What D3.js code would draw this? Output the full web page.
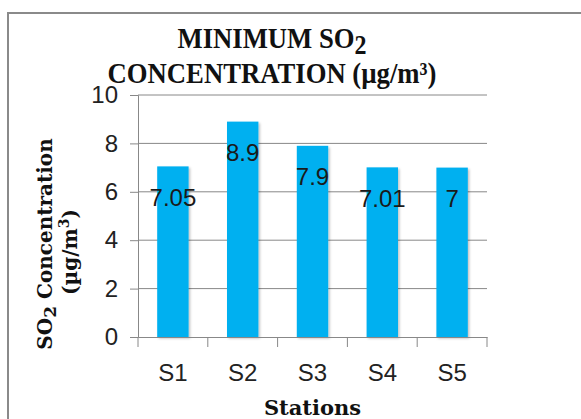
<!DOCTYPE html>
<html>
<head>
<meta charset="utf-8">
<script src="https://cdn.jsdelivr.net/npm/d3@7"></script>
<style>
  body { margin: 0; background: #fff; }
  svg { display: block; }
  .title { font-family: "Liberation Serif", serif; font-weight: bold; fill: #111; }
  .axtitle { font-family: "DejaVu Serif", serif; font-weight: bold; fill: #111; }
</style>
</head>
<body>
<svg id="chart"></svg>
<script>
var stations = ["S1", "S2", "S3", "S4", "S5"];
var minSO2 = [7.05, 8.9, 7.9, 7.01, 7];
var labels = ["7.05", "8.9", "7.9", "7.01", "7"];
var yTicks = [0, 2, 4, 6, 8, 10];

var W = 581, H = 419;
var margin = {top: 95, right: 94, bottom: 82, left: 138};
var width = W - margin.left - margin.right,
	height = H - margin.top - margin.bottom;

var svg = d3.select("#chart").attr("width", W).attr("height", H);

/* outer chart border */
svg.append("rect")
	.attr("x", 8).attr("y", 13)
	.attr("width", 600).attr("height", 440)
	.attr("fill", "none")
	.attr("stroke", "#8a8a8a")
	.attr("stroke-width", 2);

var g = svg.append("g")
	.attr("transform", "translate(" + margin.left + "," + margin.top + ")");

var x = d3.scaleBand()
	.domain(stations)
	.range([0, width])
	.paddingInner(0.55)
	.paddingOuter(0.275);

var y = d3.scaleLinear()
	.domain([0, 10])
	.range([height, 0]);

/* gridlines */
g.append("g")
	.selectAll("line")
	.data(yTicks.slice(1))
	.enter().append("line")
	.attr("x1", 0)
	.attr("x2", width)
	.attr("y1", function(d){ return y(d); })
	.attr("y2", function(d){ return y(d); })
	.attr("stroke", "#888")
	.attr("stroke-width", 1);

/* bars */
var defs = svg.append("defs");
var f = defs.append("filter").attr("id", "shadow")
	.attr("x", "-20%").attr("y", "-10%").attr("width", "150%").attr("height", "130%");
f.append("feDropShadow")
	.attr("dx", 1.5).attr("dy", 1.5).attr("stdDeviation", 1.2)
	.attr("flood-color", "#000").attr("flood-opacity", 0.25);

g.selectAll(".bar")
	.data(minSO2)
	.enter().append("rect")
	.attr("class", "bar")
	.attr("x", function(d, i){ return x(stations[i]); })
	.attr("width", x.bandwidth())
	.attr("y", function(d){ return y(d); })
	.attr("height", function(d){ return height - y(d); })
	.attr("fill", "#00b0f0")
	.attr("filter", "url(#shadow)");

/* data labels */
g.selectAll(".lbl")
	.data(minSO2)
	.enter().append("text")
	.attr("class", "lbl")
	.attr("x", function(d, i){ return x(stations[i]) + x.bandwidth() / 2; })
	.attr("y", function(d){ return y(d) + 31; })
	.attr("text-anchor", "middle")
	.attr("dominant-baseline", "central")
	.style("font-family", "'Liberation Sans', Arial, sans-serif")
	.style("font-size", "24px")
	.style("fill", "#1a1a1a")
	.text(function(d, i){ return labels[i]; });

/* axes */
var yAxis = g.append("g")
	.call(d3.axisLeft(y).tickValues(yTicks).tickSize(8).tickPadding(12));
yAxis.select(".domain").attr("stroke", "#888");
yAxis.selectAll(".tick line").attr("stroke", "#888");

var xAxis = g.append("g")
	.attr("transform", "translate(0," + height + ")")
	.call(d3.axisBottom(x).tickSize(0).tickPadding(27));
xAxis.select(".domain").attr("stroke", "#888");

g.selectAll(".tick text")
	.style("font-family", "'Liberation Sans', Arial, sans-serif")
	.style("font-size", "24px")
	.style("fill", "#222");

var step = x.step();
xAxis.selectAll(".sep")
	.data(d3.range(stations.length + 1))
	.enter().append("line")
	.attr("x1", function(d){ return d * step; })
	.attr("x2", function(d){ return d * step; })
	.attr("y1", 0).attr("y2", 10)
	.attr("stroke", "#888");

/* chart title (narrowed to mimic a condensed serif) */
var tg = svg.append("g").attr("transform", "translate(272,0) scale(0.89,1)");
var t = tg.append("text").attr("class", "title")
	.attr("text-anchor", "middle")
	.style("font-size", "30px");
var l1 = t.append("tspan").attr("x", 0).attr("y", 48);
l1.append("tspan").text("MINIMUM SO");
l1.append("tspan").attr("dy", 6).style("font-size", "27px").text("2");
t.append("tspan").attr("x", 0).attr("y", 83).text("CONCENTRATION (µg/m³)");

svg.append("text").attr("class", "axtitle")
	.attr("x", margin.left + width / 2).attr("y", 415)
	.attr("text-anchor", "middle")
	.style("font-size", "21px")
	.text("Stations");

var yt = svg.append("text").attr("class", "axtitle")
	.attr("transform", "translate(52,244) rotate(-90)")
	.attr("text-anchor", "middle")
	.style("font-size", "20px");
var a1 = yt.append("tspan").attr("x", 0).attr("y", 0);
a1.append("tspan").text("SO");
a1.append("tspan").attr("dy", 4).style("font-size", "17px").text("2");
a1.append("tspan").attr("dy", -4).text(" Concentration");
var a2 = yt.append("tspan").attr("x", -8).attr("y", 25);
a2.append("tspan").text("(µg/m");
a2.append("tspan").attr("dy", -8).style("font-size", "14px").text("3");
a2.append("tspan").attr("dy", 8).text(")");
</script>
</body>
</html>
